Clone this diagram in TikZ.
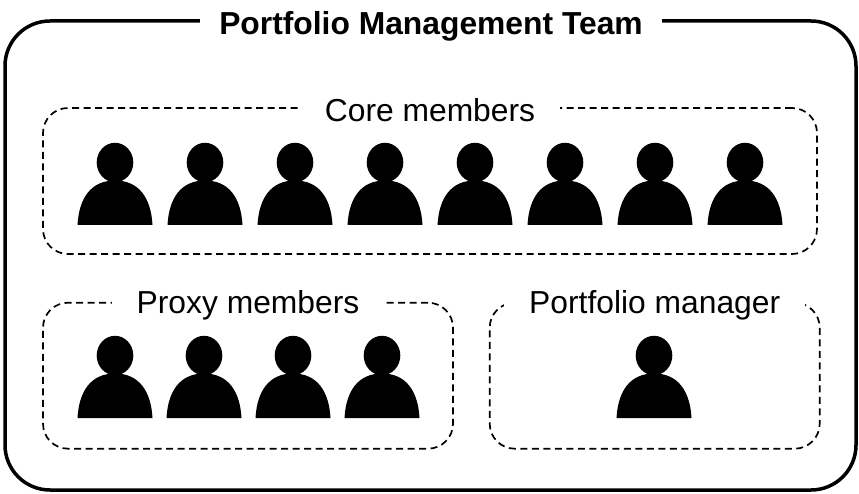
\documentclass[tikz,border=0pt]{standalone}
\usepackage{xcolor}
\usepackage{fontspec}
\setmainfont{Liberation Sans}
\usetikzlibrary{positioning}

\tikzset{
  groupbox/.style={draw, line width=1.7pt, rounded corners=25pt, dash pattern=on 7pt off 4.5pt},
  grouplabel/.style={fill=white, inner xsep=25pt, inner ysep=0pt, yshift=-3pt, font=\fontsize{31.8}{32}\selectfont},
  person/.pic={
    \fill (0,37.5) ellipse [x radius=18.3, y radius=19.7];
    \fill (-37.5,-25) .. controls (-36,2) and (-24,19.5) .. (0,19.5) .. controls (24,19.5) and (36,2) .. (37.5,-25) -- cycle;
  }
}

\begin{document}
\begin{tikzpicture}[x=1pt, y=1pt, node distance=47pt and 35pt]
  \useasboundingbox (0,0) rectangle (859,493);
  \node[draw, line width=3.5pt, rounded corners=45pt, minimum width=851pt, minimum height=469pt](team) at (430.5,237.5){};
  \node[fill=white, inner xsep=19pt, inner ysep=0pt, font=\fontsize{31.8}{32}\selectfont\bfseries](teamlabel) at (431,467){Portfolio Management Team};

  \node[groupbox, minimum width=774pt, minimum height=146pt](core) at (430,312){};
  \node[groupbox, minimum width=410pt, minimum height=146pt, below=of core.south west, anchor=north west](proxy){};
  \node[groupbox, minimum width=330pt, minimum height=146pt, right=of proxy](manager){};

  \node[grouplabel](corelabel) at (core.north){Core members};
  \node[grouplabel](proxylabel) at (proxy.north){Proxy members};
  \node[grouplabel](managerlabel) at (manager.north){Portfolio manager};

  \foreach \i in {0,...,7}
    \pic at (115+90*\i,293) {person};
  \foreach \i in {0,...,3}
    \pic at (115+89*\i,100) {person};
  \pic at (654,100) {person};
\end{tikzpicture}
\end{document}
